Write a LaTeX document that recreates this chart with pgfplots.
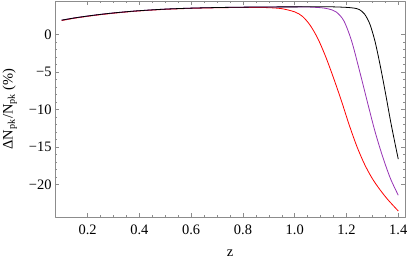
\documentclass[border=0pt]{standalone}
\usepackage{fontspec}
\setmainfont{Liberation Serif}
\usepackage{pgfplots}
\pgfplotsset{compat=1.18}
\definecolor{mpurple}{RGB}{150,50,180}
\definecolor{frame}{gray}{0.55}
\begin{document}
\begin{tikzpicture}
\begin{axis}[name=ax, scale only axis, width=350bp, height=216bp,
  xmin=0.074, xmax=1.426, ymin=-24.3, ymax=4.45,
  xtick={0.2,0.4,0.6,0.8,1.0,1.2,1.4},
  xticklabels={0.2,0.4,0.6,0.8,1.0,1.2,1.4},
  ytick={-20,-15,-10,-5,0},
  yticklabels={−20,−15,−10,−5,0},
  minor x tick num=3, minor y tick num=4,
  tick align=inside, major tick length=4.5bp, minor tick length=2.5bp,
  axis line style={frame}, every tick/.style={frame, line width=0.5bp},
  tick label style={font=\fontsize{14.5}{14.5}\selectfont, text=black},
  xticklabel style={yshift=-4bp},
  label style={font=\fontsize{14.5}{14.5}\selectfont},
  xlabel={z}, ylabel={ΔN\textsubscript{pk}/N\textsubscript{pk} (\%)},
  xlabel style={yshift=-9bp}, ylabel style={yshift=5bp},
  clip=true, line join=round]
\addplot[red, line width=0.8bp, smooth, tension=0.5] coordinates {
(0.1,1.85) (0.15,2.16) (0.2,2.41) (0.25,2.63) (0.3,2.82) (0.35,2.99) (0.4,3.13) (0.5,3.34) (0.6,3.47) (0.7,3.55) (0.8,3.59) (0.86,3.59) (0.9,3.56) (0.95,3.43) (1.0,3.0) (1.03,2.4) (1.06,1.2) (1.09,-0.6) (1.12,-3.0) (1.15,-5.8) (1.18,-8.8) (1.21,-12.0) (1.24,-14.9) (1.27,-17.3) (1.3,-19.2) (1.33,-20.7) (1.36,-22.0) (1.4,-23.5)};
\addplot[mpurple, line width=0.8bp, smooth, tension=0.5] coordinates {
(0.1,1.9) (0.15,2.2) (0.2,2.45) (0.25,2.67) (0.3,2.86) (0.35,3.02) (0.4,3.16) (0.5,3.37) (0.6,3.5) (0.7,3.58) (0.8,3.63) (0.9,3.66) (1.0,3.67) (1.05,3.65) (1.1,3.56) (1.13,3.4) (1.16,3.0) (1.19,1.8) (1.22,-0.9) (1.25,-4.8) (1.28,-8.9) (1.31,-12.9) (1.34,-16.3) (1.37,-19.2) (1.4,-21.4)};
\addplot[black, line width=0.8bp, smooth, tension=0.5] coordinates {
(0.1,1.9) (0.15,2.2) (0.2,2.45) (0.25,2.67) (0.3,2.86) (0.35,3.02) (0.4,3.16) (0.5,3.37) (0.6,3.5) (0.7,3.58) (0.8,3.63) (0.9,3.66) (1.0,3.67) (1.1,3.68) (1.15,3.67) (1.2,3.6) (1.23,3.5) (1.25,3.3) (1.27,2.7) (1.29,1.4) (1.31,-0.9) (1.33,-4.1) (1.35,-7.7) (1.37,-11.5) (1.385,-14.1) (1.4,-16.6)};
\end{axis}
\pgfresetboundingbox
\path ([xshift=-55bp,yshift=-44bp]ax.south west) rectangle ([xshift=4bp,yshift=1bp]ax.north east);
\end{tikzpicture}
\end{document}
